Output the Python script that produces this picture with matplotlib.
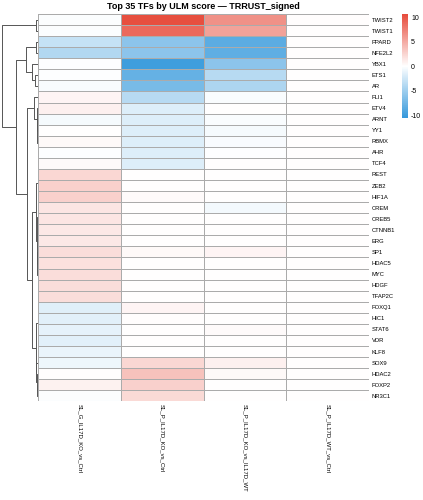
import numpy as np
import matplotlib
matplotlib.use("Agg")
import matplotlib.pyplot as plt
from matplotlib.colors import LinearSegmentedColormap

plt.rcParams['font.family'] = ['Liberation Sans', 'DejaVu Sans']
plt.rcParams['axes.unicode_minus'] = False

# columns (contrasts)
contrasts = ["SL_G_IL17D_KO_vs_Ctrl", "SL_P_IL17D_KO_vs_Ctrl",
             "SL_P_IL17D_KO_vs_IL17D_WT", "SL_P_IL17D_WT_vs_Ctrl"]

tfs = ["TWIST2", "TWIST1", "PPARD", "NFE2L2", "YBX1", "ETS1", "AR", "FLI1",
       "ETV4", "ARNT", "YY1", "RBMX", "AHR", "TCF4", "REST", "ZEB2", "HIF1A",
       "CREM", "CREB5", "CTNNB1", "ERG", "SP1", "HDAC5", "MYC", "HDGF",
       "TFAP2C", "FOXQ1", "HIC1", "STAT6", "VDR", "KLF8", "SOX9", "HDAC2",
       "FOXP2", "NR3C1"]

# ULM scores per contrast
g_ko_vs_ctrl = [-0.2, -0.2, -3.0, -4.0, -0.1, -0.1, -0.4, 0.6, 0.9, -0.5,
                0.0, 0.4, -0.1, 0.3, 2.4, 2.8, 2.8, 1.5, 1.5, 1.4, 1.4, 2.0,
                1.8, 2.0, 2.0, 2.0, -1.6, -1.5, -1.3, -1.5, -1.1, -0.9, 0.0,
                0.8, -0.2]
p_ko_vs_ctrl = [10.4, 8.8, -6.0, -6.0, -10.0, -8.0, -7.0, -3.8, -1.8, -1.8,
                -1.8, -1.8, -1.8, -1.8, 0.0, 0.0, 0.3, 0.0, 0.0, 0.0, 0.0, 0.4,
                0.0, 0.0, 0.0, 0.0, 0.6, 0.1, 0.0, 0.0, 0.0, 2.4, 3.6, 2.8, 2.2]
p_ko_vs_wt = [6.5, 5.5, -8.5, -8.3, -6.0, -3.8, -4.3, -0.3, 0.0, -0.3,
              -0.5, -0.4, -0.1, 0.0, 0.0, 0.0, 0.0, -0.6, 0.0, 0.0, 0.0, 0.6,
              0.0, 0.0, 0.0, 0.0, 0.0, 0.0, 0.3, 0.0, 0.0, 0.9, 0.4, 0.0, 0.0]
p_wt_vs_ctrl = [0.1, 0.0, 0.0, 0.0, 0.0, 0.0, 0.0, 0.0, 0.0, 0.0,
                0.0, 0.0, 0.0, 0.0, 0.0, 0.0, 0.0, 0.0, 0.0, 0.0, 0.0, 0.0,
                0.0, 0.0, 0.0, 0.0, 0.0, 0.0, 0.0, 0.0, 0.0, 0.0, 0.0, 0.0, 0.0]

# row dendrogram: (left, right, height); leaves 0..34, new nodes from 35
row_merges = [
    (0, 1, 1.7),      # 35 TWIST
    (2, 3, 1.7),      # 36
    (5, 6, 2.3),      # 37
    (4, 37, 4.2),     # 38
    (36, 38, 7.9),    # 39
    (11, 12, 0.3),    # 40
    (40, 13, 0.4),    # 41
    (10, 41, 0.5),    # 42
    (9, 42, 0.6),     # 43
    (8, 43, 1.0),     # 44
    (7, 44, 2.8),     # 45
    (15, 16, 0.2),    # 46
    (14, 46, 0.4),    # 47
    (19, 20, 0.1),    # 48
    (18, 48, 0.2),    # 49
    (17, 49, 0.5),    # 50
    (23, 24, 0.1),    # 51
    (51, 25, 0.2),    # 52
    (22, 52, 0.3),    # 53
    (21, 53, 0.6),    # 54
    (50, 54, 0.9),    # 55
    (47, 55, 1.2),    # 56
    (28, 29, 0.1),    # 57
    (27, 57, 0.2),    # 58
    (58, 30, 0.3),    # 59
    (26, 59, 0.5),    # 60
    (33, 34, 0.6),    # 61
    (32, 61, 0.8),    # 62
    (31, 62, 1.2),    # 63
    (60, 63, 1.7),    # 64
    (56, 64, 3.9),    # 65
    (45, 65, 7.7),    # 66
    (39, 66, 14.6),   # 67
    (35, 67, 24.0),   # 68 root
]

data = np.array([g_ko_vs_ctrl, p_ko_vs_ctrl, p_ko_vs_wt, p_wt_vs_ctrl]).T
n_rows, n_cols = data.shape

cmap = LinearSegmentedColormap.from_list("bwr_flat", ["#3498DB", "#FFFFFF", "#E74C3C"])
vlim = 10.6

W, H = 423, 500
fig = plt.figure(figsize=(W / 100, H / 100), dpi=100)

hm_left, hm_right, hm_top, hm_bot = 38.3, 369.0, 14.0, 401.3
ax = fig.add_axes([hm_left / W, 1 - hm_bot / H, (hm_right - hm_left) / W, (hm_bot - hm_top) / H])
mesh = ax.pcolormesh(np.arange(n_cols + 1), np.arange(n_rows + 1), data, cmap=cmap,
                     vmin=-vlim, vmax=vlim, edgecolors="#ABABAB", linewidth=0.6)
ax.set_xlim(0, n_cols)
ax.set_ylim(n_rows, 0)
for s in ax.spines.values():
    s.set_visible(False)
ax.yaxis.tick_right()
ax.set_yticks(np.arange(n_rows) + 0.5)
ax.set_yticklabels(tfs, fontsize=4.2)
ax.set_xticks(np.arange(n_cols) + 0.5)
ax.set_xticklabels(contrasts, fontsize=4.3, rotation=270, va="top", ha="center")
ax.tick_params(length=0, pad=2)

ax.set_title("Top 35 TFs by ULM score \u2014 TRRUST_signed", fontsize=6.5,
             fontweight="bold", pad=3.5)

# dendrogram
dax = fig.add_axes([0, 1 - hm_bot / H, hm_left / W, (hm_bot - hm_top) / H])
pos = {i: i + 0.5 for i in range(n_rows)}
hgt = {i: 0.0 for i in range(n_rows)}
node = n_rows
for a, b, h in row_merges:
    dax.plot([hgt[a], h, h, hgt[b]], [pos[a], pos[a], pos[b], pos[b]],
             color="#555555", lw=0.7, solid_capstyle="butt")
    pos[node] = (pos[a] + pos[b]) / 2
    hgt[node] = h
    node += 1
dax.set_xlim(25.1, 0)
dax.set_ylim(n_rows, 0)
dax.axis("off")

# colour key
cax = fig.add_axes([401.7 / W, 1 - 118 / H, 6 / W, 103.7 / H])
cb = fig.colorbar(mesh, cax=cax, ticks=[-10, -5, 0, 5, 10])
cb.outline.set_visible(False)
cax.tick_params(length=0, labelsize=5, pad=2.5)

fig.savefig("out.png", dpi=100)
